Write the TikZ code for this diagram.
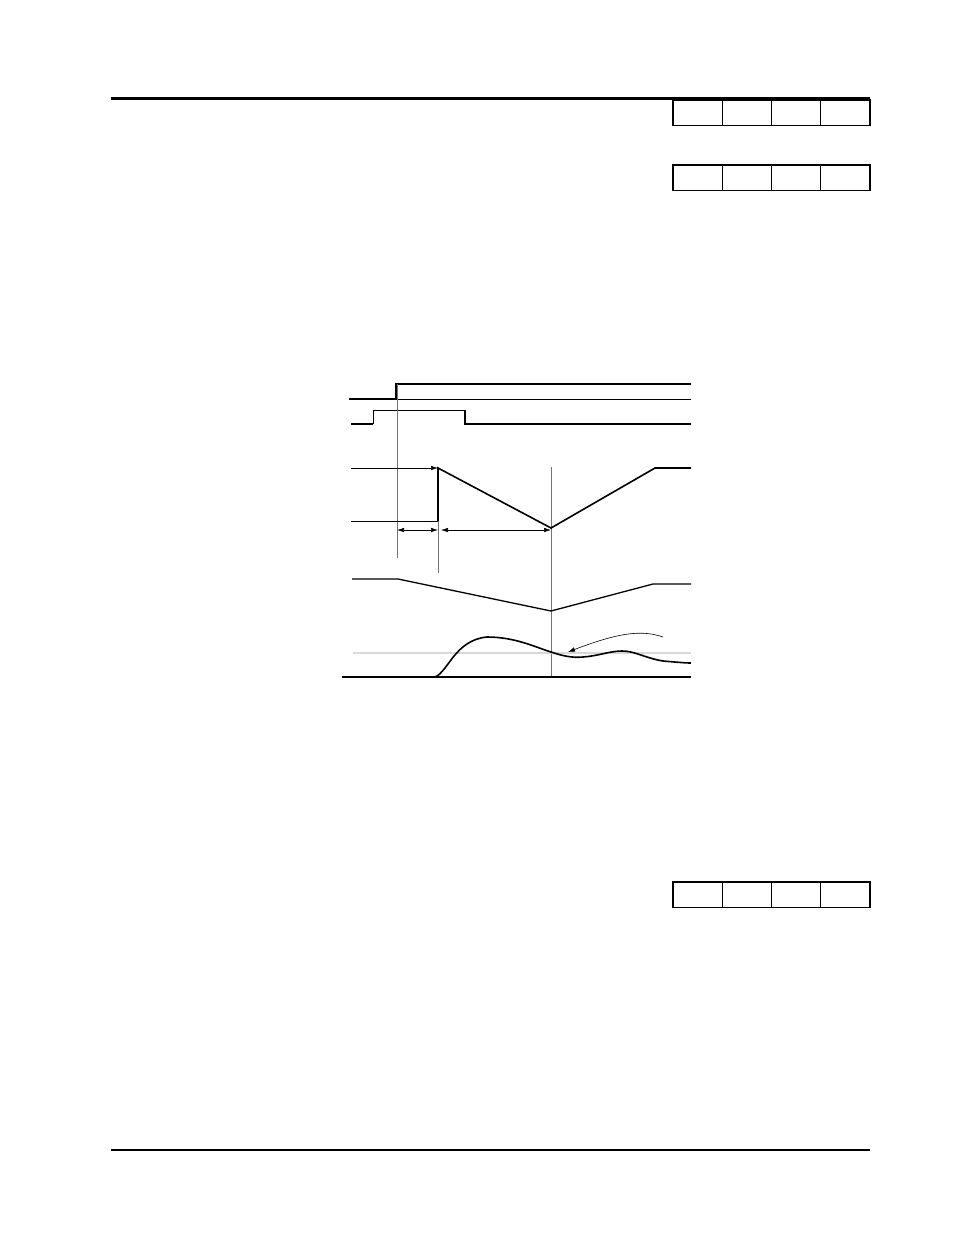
\documentclass[tikz,border=0pt]{standalone}
\usetikzlibrary{arrows.meta,positioning,calc}

\begin{document}
\begin{tikzpicture}[
    x=1pt, y=-1pt,
    % empty boxes at the right margin
    cell/.style={draw, line width=1.1pt, minimum width=49.25pt, minimum height=25.5pt,
      inner sep=0pt, outer sep=0pt},
    trace/.style={line width=1.6pt, line join=miter},
    hair/.style={line width=0.6pt},
    guide/.style={line width=0.7pt, black!55},
    tip/.style={-{Latex[length=7pt,width=4.5pt]}},
    dimline/.style={line width=0.6pt, {Latex[length=7pt,width=4.5pt]}-{Latex[length=7pt,width=4.5pt]}},
  ]
  \useasboundingbox (0,0) rectangle (954,1235);

  % page rules
  \draw[line width=2.6pt] (111,98.5) -- (870,98.5);
  \draw[line width=1.3pt] (111,1150) -- (870,1150);

  \foreach \row/\y in {a/100, b/165, c/882} {
    \node[cell, anchor=north west] (\row1) at (673,\y) {};
    \foreach \i [remember=\i as \j (initially 1)] in {2,3,4}
      \node[cell, right=0pt of \row\j] (\row\i) {};
  }

  % run command and pulse
  \draw[trace] (349,399) -- (396,399) -- (396,384) -- (691,384);
  \draw[hair] (396,399) -- (691,399);
  \draw[trace] (351,424) -- (373,424);
  \draw[hair] (373,424) -- (373,410) -- (465,410);
  \draw[trace] (465,410) -- (465,424) -- (691,424);

  % guide lines
  \draw[guide] (397,384) -- (397,558);
  \draw[guide] (438,468) -- (438,573);
  \draw[guide] (551,467) -- (551,677);

  % output frequency
  \coordinate (fhi) at (438,468);
  \coordinate (flo) at (438,521);
  \coordinate (fmin) at (551,528);
  \coordinate (fend) at (655,468);
  \draw[hair, tip] (351,468) -- (fhi);
  \draw[hair] (351,521) -- (flo);
  \draw[trace] (flo) -- (fhi) -- (fmin) -- (fend) -- (691,468);

  % time spans
  \coordinate (d1) at (397,530);
  \coordinate (d2) at (438,530);
  \coordinate (d3) at (441,530);
  \coordinate (d4) at (551,530);
  \draw[dimline] (d1) -- (d2);
  \draw[dimline] (d3) -- (d4);

  % output voltage
  \draw[trace, line width=1.3pt] (352,579) -- (398,579) -- (551,611) -- (653,584) -- (691,584);

  % current
  \draw[line width=1.8pt, black!15] (353,653) -- (691,653);
  \draw[line width=1.2pt] (342,677) -- (691,677);
  \draw[trace] (435,677) .. controls (448,672) and (455,640) .. (487,637)
    .. controls (515,637) and (535,647) .. (551,652)
    .. controls (563,656) and (572,658) .. (583,657)
    .. controls (598,656) and (610,651) .. (622,651)
    .. controls (635,651) and (645,658) .. (663,661)
    .. controls (675,662) and (685,663) .. (691,663);
  \coordinate (cfrom) at (663,637);
  \coordinate (cto) at (568,652);
  \draw[hair, tip] (cfrom) .. controls (645,631) and (625,630) .. (cto);
\end{tikzpicture}
\end{document}
